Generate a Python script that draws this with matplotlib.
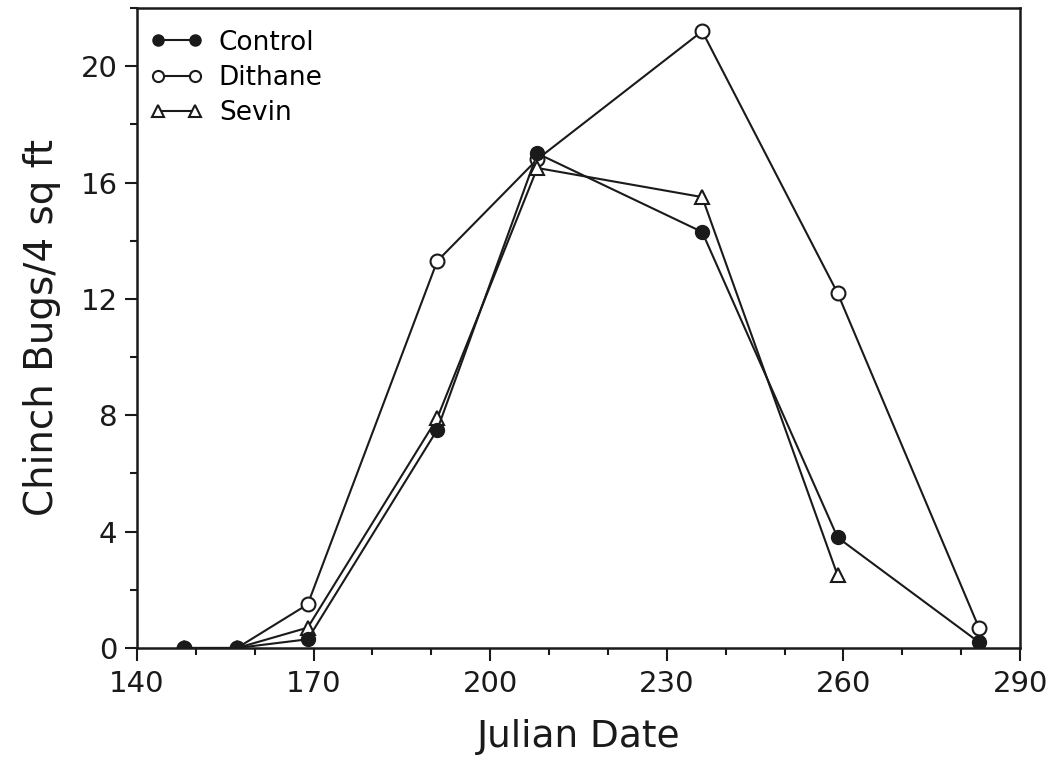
import matplotlib
matplotlib.use("Agg")
import matplotlib.pyplot as plt
from matplotlib.ticker import FixedLocator, MultipleLocator

dates = [148, 157, 169, 191, 208, 236, 259, 283]
control = [0, 0, 0.3, 7.5, 17.0, 14.3, 3.8, 0.2]
dithane = [0, 0, 1.5, 13.3, 16.8, 21.2, 12.2, 0.7]
sevin_dates = [148, 157, 169, 191, 208, 236, 259]
sevin = [0, 0, 0.7, 7.9, 16.5, 15.5, 2.5]
x_major = [140, 170, 200, 230, 260, 290]
y_major = [0, 4, 8, 12, 16, 20]

plt.rcParams['font.family'] = ['DejaVu Sans']
fig = plt.figure(figsize=(10.56, 7.61), dpi=100)
ax = fig.add_axes([0.1297, 0.1485, 0.8363, 0.841])

ax.plot(dates, dithane, color='#1a1a1a', lw=1.5, marker='o', ms=10,
        mfc='white', mec='#1a1a1a', mew=1.5, label='Dithane', zorder=2)
ax.plot(sevin_dates, sevin, color='#1a1a1a', lw=1.5, marker='^', ms=10,
        mfc='white', mec='#1a1a1a', mew=1.5, label='Sevin', zorder=3)
ax.plot(dates, control, color='#1a1a1a', lw=1.5, marker='o', ms=10,
        mfc='#1a1a1a', mec='#1a1a1a', label='Control', zorder=4)

ax.set_xlim(140, 290)
ax.set_ylim(0, 22)
ax.xaxis.set_major_locator(FixedLocator(x_major))
ax.xaxis.set_minor_locator(MultipleLocator(10))
ax.yaxis.set_major_locator(FixedLocator(y_major))
ax.yaxis.set_minor_locator(MultipleLocator(2))
ax.tick_params(axis='both', which='major', direction='out', length=9, width=1.5,
               labelsize=21, color='#1a1a1a', labelcolor='#1a1a1a', pad=5)
ax.tick_params(axis='x', which='major', pad=7)
ax.tick_params(axis='both', which='minor', direction='out', length=5, width=1.5,
               color='#1a1a1a')
for s in ax.spines.values():
    s.set_linewidth(1.8)
    s.set_color('#1a1a1a')

ax.set_xlabel('Julian Date', fontsize=27, color='#1a1a1a', labelpad=15)
ax.set_ylabel('Chinch Bugs/4 sq ft', fontsize=28, color='#1a1a1a', labelpad=14)

h, l = ax.get_legend_handles_labels()
order = [2, 0, 1]
ax.legend([h[i] for i in order], [l[i] for i in order], loc='upper left',
          bbox_to_anchor=(0.0, 0.987),
          frameon=False, fontsize=19, numpoints=2, handlelength=2.0,
          borderaxespad=0.1, labelspacing=0.35, handletextpad=0.6,
          markerscale=0.8)

fig.savefig('out.png', dpi=100)
